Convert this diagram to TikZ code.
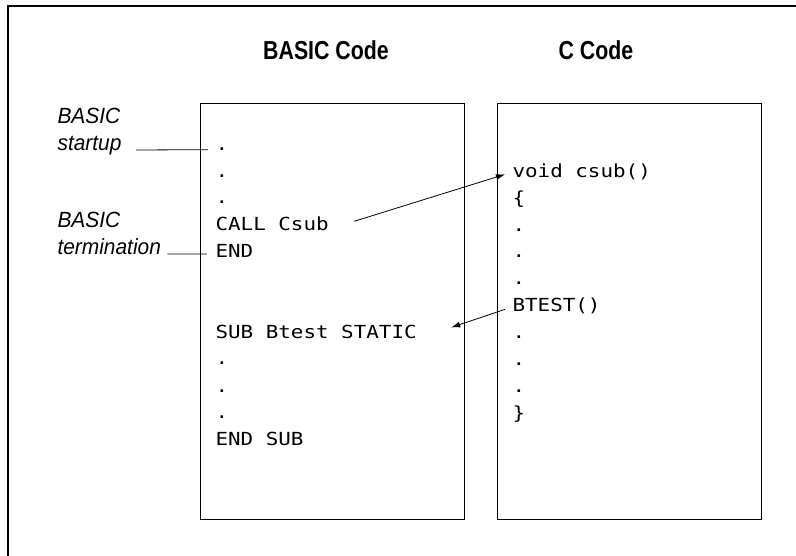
\documentclass[tikz,border=0pt]{standalone}
\usepackage{fontspec}
\usetikzlibrary{arrows.meta,positioning}
\newfontfamily\titlefont[FakeStretch=0.82]{Liberation Sans}
\newfontfamily\labelfont[FakeStretch=0.95]{Liberation Sans}
\newfontfamily\codefont[FakeStretch=1.16]{DejaVu Sans Mono}

\begin{document}
\begin{tikzpicture}[x=1pt,y=-1pt,line width=1.1pt]
		\tikzstyle{heading}=[font=\titlefont\bfseries\fontsize{26}{26}\selectfont,inner sep=0pt,anchor=base]
		\tikzstyle{note}=[font=\labelfont\itshape\fontsize{22}{27}\selectfont,inner sep=0pt,align=left,anchor=base west]
		\tikzstyle{code}=[font=\codefont\fontsize{18}{18}\selectfont,anchor=base west,inner sep=0pt]
		\tikzstyle{listing}=[draw,minimum width=264pt,minimum height=416pt,anchor=north west,inner sep=0pt]

		\useasboundingbox (0,0) rectangle (796,556);
		\draw (8,580) -- (8,6) -- (820,6);

		\node[heading](basictitle) at (326,60){BASIC Code};
		\node[heading](ctitle) at (596,60){C Code};

		\node[listing](basicbox) at (200,103){};
		\node[listing](cbox) at (497,103){};

		% BASIC side
		\node[code](b1) at (215,151){.};
		\node[code](b2) at (215,178){.};
		\node[code](b3) at (215,204){.};
		\node[code](call) at (215,231){CALL Csub};
		\node[code](bend) at (215,258){END};
		\node[code](sub) at (215,338){SUB Btest STATIC};
		\node[code](b4) at (215,365){.};
		\node[code](b5) at (215,392){.};
		\node[code](b6) at (215,418){.};
		\node[code](endsub) at (215,445){END SUB};

		% C side
		\node[code](void) at (512,178){void csub()};
		\node[code](open) at (512,205){\{};
		\node[code](c1) at (512,232){.};
		\node[code](c2) at (512,258){.};
		\node[code](c3) at (512,285){.};
		\node[code](btest) at (512,312){BTEST()};
		\node[code](c4) at (512,339){.};
		\node[code](c5) at (512,366){.};
		\node[code](c6) at (512,392){.};
		\node[code](close) at (512,419){\}};

		% labels
		\node[note](startup) at (57,151){BASIC\\startup};
		\node[note](termination) at (57,255){BASIC\\termination};

		\draw[line width=0.8pt] ([xshift=14pt,yshift=1pt]startup.base east) -- ([xshift=-7pt]b1.west);
		\draw[line width=0.8pt] ([xshift=6pt,yshift=1pt]termination.base east) -- ([xshift=-8pt,yshift=-2.5pt]bend.west);

		\draw[line width=0.8pt,-{Latex[length=9pt,width=6pt]}] ([xshift=25pt,yshift=3pt]call.east) -- ([xshift=-7pt,yshift=-2pt]void.west);
		\draw[line width=0.8pt,-{Latex[length=9pt,width=6pt]}] ([xshift=-7pt,yshift=-3pt]btest.west) -- ([xshift=34pt,yshift=4pt]sub.east);
	\end{tikzpicture}
\end{document}
